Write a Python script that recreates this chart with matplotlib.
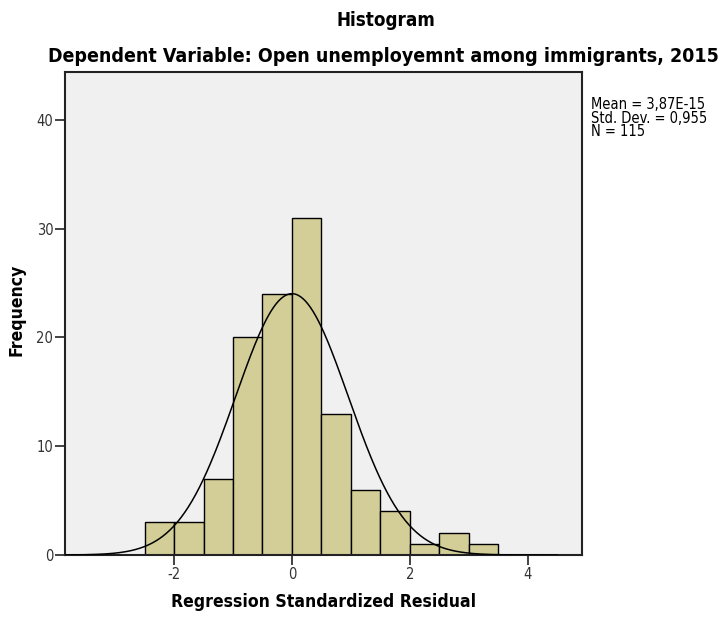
import numpy as np
import matplotlib
matplotlib.use("Agg")
import matplotlib.pyplot as plt

bin_edges = [-2.5, -2.0, -1.5, -1.0, -0.5, 0.0, 0.5, 1.0, 1.5, 2.0, 2.5, 3.0, 3.5]
counts = [3, 3, 7, 20, 24, 31, 13, 6, 4, 1, 2, 1]
mean_val = 0.0
std_val = 0.955
n_val = 115
x_ticks = [-2, 0, 2, 4]
y_ticks = [0, 10, 20, 30, 40]
stats_text = "Mean = 3,87E-15\nStd. Dev. = 0,955\nN = 115"

FONT = dict(family="DejaVu Sans", stretch="condensed")

fig = plt.figure(figsize=(7.24, 6.17), dpi=100)
ax = fig.add_axes([65/724, 1-555/617, (582-65)/724, (555-72)/617])
ax.set_facecolor("#f0f0f0")

widths = np.diff(bin_edges)
ax.bar(bin_edges[:-1], counts, width=widths, align="edge",
       color="#d3ce97", edgecolor="black", linewidth=1.0, zorder=2)

bw = widths[0]
xs = np.linspace(-3.85, 4.5, 400)
ys = n_val * bw / (std_val * np.sqrt(2*np.pi)) * np.exp(-0.5*((xs-mean_val)/std_val)**2)
ax.plot(xs, ys, color="black", linewidth=1.1, zorder=3)

ax.set_xlim(-3.85, 4.92)
ax.set_ylim(0, 44.4)
ax.set_xticks(x_ticks)
ax.set_yticks(y_ticks)
ax.set_xticklabels([str(t) for t in x_ticks], fontsize=10.5, **FONT)
ax.set_yticklabels([str(t) for t in y_ticks], fontsize=10.5, **FONT)
ax.tick_params(direction="out", length=7, width=1.2, pad=1.5, colors="#222222", labelcolor="#333333")
for s in ax.spines.values():
    s.set_linewidth(1.5)
    s.set_color("#222222")

fig.text(324/724, 1-602/617, "Regression Standardized Residual", ha="center", va="center",
         fontsize=12.6, fontweight="bold", **FONT)
fig.text(17/724, 1-310/617, "Frequency", ha="center", va="center", rotation=90,
         fontsize=12.6, fontweight="bold", **FONT)

fig.text(386/724, 1-20/617, "Histogram", ha="center", va="center", fontsize=13.5, fontweight="bold", **FONT)
fig.text(383/724, 1-57/617, "Dependent Variable: Open unemployemnt among immigrants, 2015",
         ha="center", va="center", fontsize=14, fontweight="bold", **FONT)
fig.text(591/724, 1-97/617, stats_text, ha="left", va="top", fontsize=10.5, linespacing=0.88, **FONT)

fig.savefig("out.png", dpi=100)
